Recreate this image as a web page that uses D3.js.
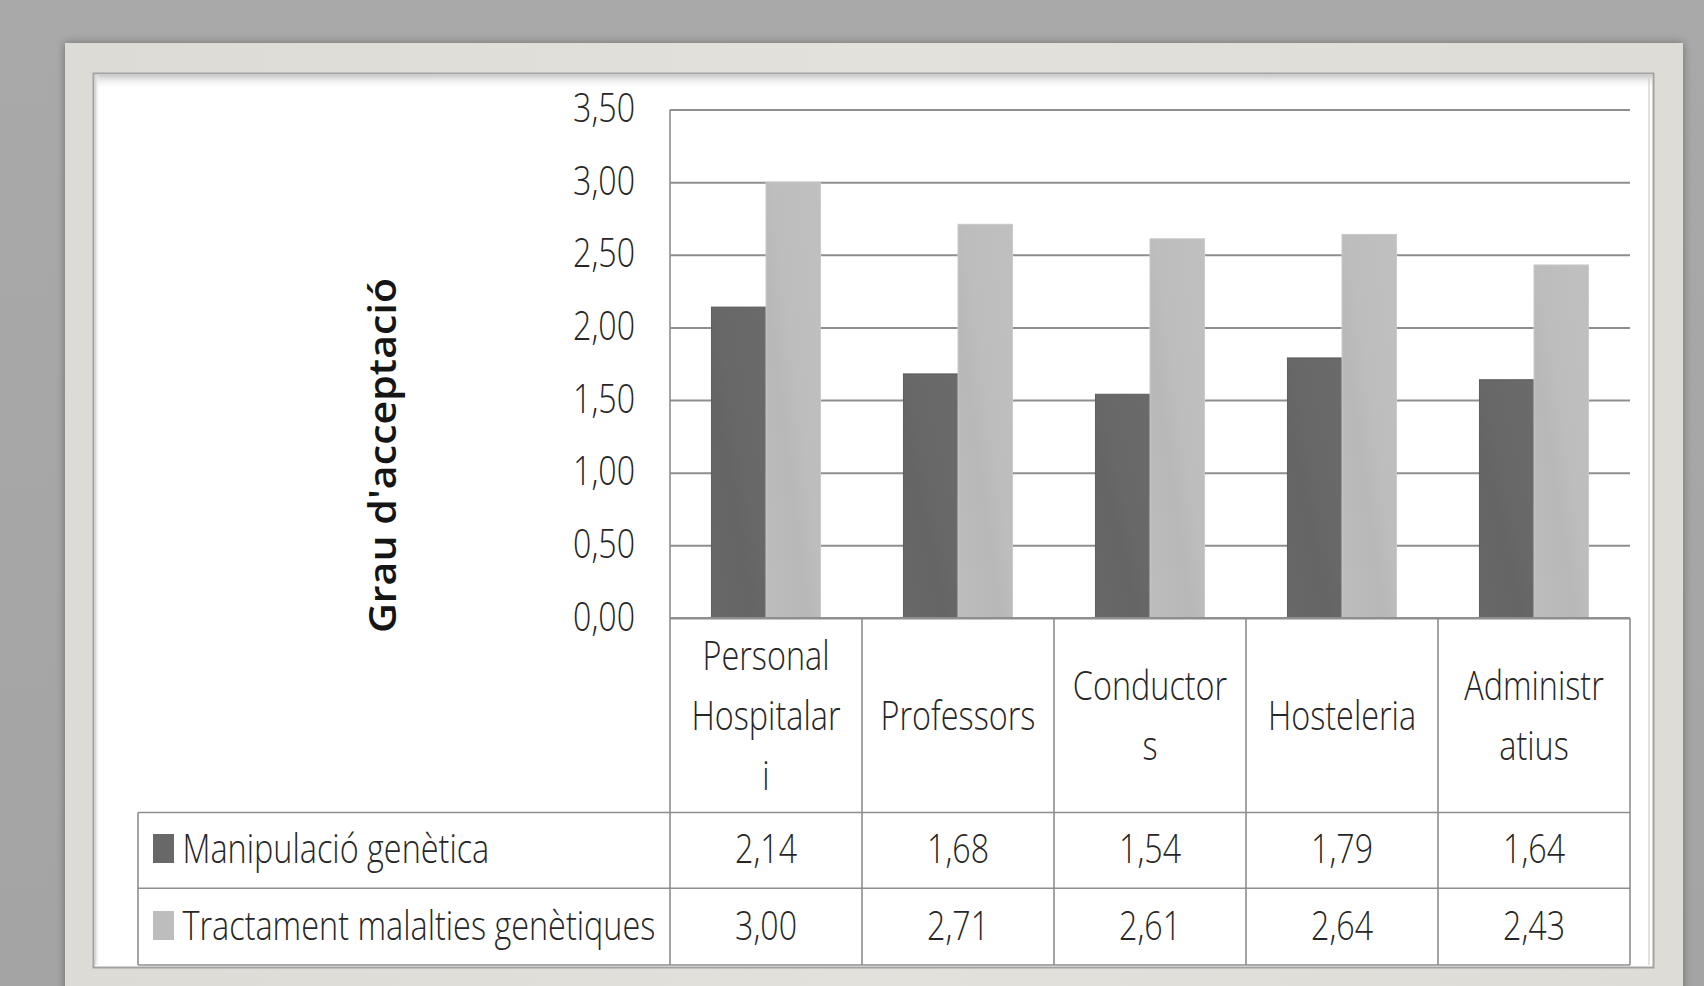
<!DOCTYPE html>
<html><head><meta charset="utf-8">
<script src="https://cdn.jsdelivr.net/npm/d3@7"></script>
<style>body{margin:0;background:#a7a7a7;overflow:hidden}</style>
</head><body>
<svg id="c" width="1704" height="986"></svg>
<script>
// ---------- data ----------
const categories = ["Personal Hospitalari", "Professors", "Conductors", "Hosteleria", "Administratius"];
const categoryLabelLines = [["Personal", "Hospitalar", "i"], ["Professors"], ["Conductor", "s"], ["Hosteleria"], ["Administr", "atius"]];
const seriesNames = ["Manipulació genètica", "Tractament malalties genètiques"];
const manipulacio = [2.14, 1.68, 1.54, 1.79, 1.64];
const tractament = [3.00, 2.71, 2.61, 2.64, 2.43];
const yTicks = [0, 0.5, 1, 1.5, 2, 2.5, 3, 3.5];
const yTitle = "Grau d'acceptació";

const seriesValues = [manipulacio, tractament];
const seriesColors = ["#686868", "#bdbdbd"];

// ---------- layout ----------
const W = 1704, H = 986;
const plot = {left: 670, right: 1630, top: 109.5, bottom: 618};
const table = {left: 138, headBottom: 812.5, row1Bottom: 888.3, bottom: 965};
const FONT = "'Open Sans', 'Noto Sans', sans-serif";
const FS = 41;
const FW = 300;
const textColor = "#262626";
const lineColor = "#8e8e8e";

const svg = d3.select("#c");
const defs = svg.append("defs");

function measure(str) {
  const t = svg.append("text").attr("font-family", FONT).attr("font-size", FS).attr("font-weight", FW).text(str);
  const w = t.node().getComputedTextLength();
  t.remove();
  return w;
}
const sxCat = 149 / measure("Hospitalar");
const sxNum = 62 / measure("3,50");
const sxLeg = 473 / measure("Tractament malalties genètiques");

function ctext(g, x, y, str, sx, anchor) {
  return g.append("text")
    .attr("transform", `translate(${x},${y}) scale(${sx},1)`)
    .attr("text-anchor", anchor || "middle")
    .attr("font-family", FONT).attr("font-size", FS).attr("font-weight", FW)
    .attr("fill", textColor).text(str);
}

// ---------- background & frames ----------
const bgGrad = defs.append("linearGradient").attr("id", "bg").attr("x1", 0).attr("y1", 0).attr("x2", 0).attr("y2", 1);
bgGrad.append("stop").attr("offset", "0%").attr("stop-color", "#a9a9a9");
bgGrad.append("stop").attr("offset", "100%").attr("stop-color", "#a4a4a4");
svg.append("rect").attr("width", W).attr("height", H).attr("fill", "url(#bg)");

const sh = defs.append("filter").attr("id", "shadow").attr("x", "-5%").attr("y", "-5%").attr("width", "110%").attr("height", "110%");
sh.append("feGaussianBlur").attr("in", "SourceAlpha").attr("stdDeviation", 5);
sh.append("feOffset").attr("dx", 0).attr("dy", 0).attr("result", "b");
sh.append("feComponentTransfer").append("feFuncA").attr("type", "linear").attr("slope", 0.35);
const fm = sh.append("feMerge"); fm.append("feMergeNode"); fm.append("feMergeNode").attr("in", "SourceGraphic");

const frGrad = defs.append("linearGradient").attr("id", "frame").attr("x1", 0).attr("y1", 0).attr("x2", 1).attr("y2", 0);
frGrad.append("stop").attr("offset", "0%").attr("stop-color", "#dcdbd6");
frGrad.append("stop").attr("offset", "50%").attr("stop-color", "#e2e1dc");
frGrad.append("stop").attr("offset", "100%").attr("stop-color", "#dedcd7");
svg.append("rect").attr("x", 65).attr("y", 43).attr("width", 1618).attr("height", 970)
  .attr("fill", "url(#frame)").attr("filter", "url(#shadow)");

// inner white panel
svg.append("rect").attr("x", 93.5).attr("y", 73.5).attr("width", 1560).attr("height", 894)
  .attr("fill", "#ffffff").attr("stroke", "#a2a2a2").attr("stroke-width", 2);
const topBevel = defs.append("linearGradient").attr("id", "tb").attr("x1", 0).attr("y1", 0).attr("x2", 0).attr("y2", 1);
topBevel.append("stop").attr("offset", "0%").attr("stop-color", "#c9c9c9");
topBevel.append("stop").attr("offset", "100%").attr("stop-color", "#ffffff").attr("stop-opacity", 0);
svg.append("rect").attr("x", 95).attr("y", 75).attr("width", 1557).attr("height", 14).attr("fill", "url(#tb)");
const leftBevel = defs.append("linearGradient").attr("id", "lb").attr("x1", 0).attr("y1", 0).attr("x2", 1).attr("y2", 0);
leftBevel.append("stop").attr("offset", "0%").attr("stop-color", "#d0d0d0");
leftBevel.append("stop").attr("offset", "100%").attr("stop-color", "#ffffff").attr("stop-opacity", 0);
svg.append("rect").attr("x", 95).attr("y", 75).attr("width", 5).attr("height", 890).attr("fill", "url(#lb)");
svg.append("line").attr("x1", 1649).attr("x2", 1649).attr("y1", 76).attr("y2", 965).attr("stroke", "#d6d6d6").attr("stroke-width", 1.5);

// ---------- scales ----------
const x = d3.scaleBand().domain(categories).range([plot.left, plot.right]);
const xs = d3.scaleBand().domain(seriesNames).range([0, x.bandwidth()]).paddingInner(0).paddingOuter(0.76);
const y = d3.scaleLinear().domain([0, 3.5]).range([plot.bottom, plot.top]);

// gridlines
const grid = svg.append("g").attr("transform", `translate(${plot.left},0)`)
  .call(d3.axisRight(y).tickValues(yTicks).tickSize(plot.right - plot.left).tickFormat(""));
grid.select(".domain").remove();
grid.selectAll(".tick line").attr("stroke", lineColor).attr("stroke-width", 2);

// bar gradients (subtle diagonal banding)
seriesNames.forEach((s, i) => {
  const g = defs.append("linearGradient").attr("id", "bar" + i)
    .attr("x1", 1).attr("y1", 0).attr("x2", 0).attr("y2", 1);
  const base = d3.color(seriesColors[i]);
  g.append("stop").attr("offset", "0%").attr("stop-color", base.brighter(0.05));
  g.append("stop").attr("offset", "45%").attr("stop-color", base);
  g.append("stop").attr("offset", "62%").attr("stop-color", base.darker(0.08));
  g.append("stop").attr("offset", "100%").attr("stop-color", base);
});

// bars
const barsG = svg.append("g");
seriesNames.forEach((s, si) => {
  barsG.append("g").selectAll("rect").data(categories).join("rect")
    .attr("x", (c) => x(c) + xs(s))
    .attr("width", xs.bandwidth())
    .attr("y", (c, i) => y(seriesValues[si][i]))
    .attr("height", (c, i) => y(0) - y(seriesValues[si][i]))
    .attr("fill", `url(#bar${si})`)
    .attr("stroke", si === 0 ? "#5c5c5c" : "#c9c9c9").attr("stroke-width", 1);
});

// y axis labels
const yAxis = svg.append("g").attr("transform", `translate(${plot.left},0)`)
  .call(d3.axisLeft(y).tickValues(yTicks).tickSize(0).tickPadding(35)
    .tickFormat(d => d3.format(".2f")(d).replace(".", ",")));
yAxis.select(".domain").remove();
yAxis.selectAll(".tick text")
  .attr("x", null).attr("dy", null)
  .attr("transform", `translate(-35,12) scale(${sxNum},1)`)
  .attr("font-family", FONT).attr("font-size", FS).attr("font-weight", FW).attr("fill", textColor);

// y title
svg.append("text").attr("transform", "translate(396,455.5) rotate(-90)")
  .attr("text-anchor", "middle").attr("font-family", FONT).attr("font-weight", 600)
  .attr("font-size", 37).attr("fill", "#151515")
  .attr("textLength", 355).attr("lengthAdjust", "spacingAndGlyphs").text(yTitle);

// ---------- data table ----------
const tbl = svg.append("g").attr("stroke", lineColor).attr("stroke-width", 1.6).attr("fill", "none");
tbl.append("line").attr("x1", plot.left).attr("x2", plot.right).attr("y1", plot.bottom).attr("y2", plot.bottom).attr("stroke-width", 2.2);
[table.headBottom, table.row1Bottom, table.bottom].forEach(yy =>
  tbl.append("line").attr("x1", table.left).attr("x2", plot.right).attr("y1", yy).attr("y2", yy));
tbl.append("line").attr("x1", plot.left).attr("x2", plot.left).attr("y1", plot.top).attr("y2", table.bottom);
categories.forEach(c => {
  const xx = x(c) + x.bandwidth();
  tbl.append("line").attr("x1", xx).attr("x2", xx).attr("y1", plot.bottom).attr("y2", table.bottom);
});
tbl.append("line").attr("x1", table.left).attr("x2", table.left).attr("y1", table.headBottom).attr("y2", table.bottom);

// category headers
const headG = svg.append("g");
const headCenter = (plot.bottom + table.headBottom) / 2;
categories.forEach((c, ci) => {
  const lines = categoryLabelLines[ci];
  const cx = x(c) + x.bandwidth() / 2;
  lines.forEach((ln, li) => {
    const cy = headCenter - (lines.length - 1) * 30 + li * 60;
    ctext(headG, cx, cy + 14.5, ln, sxCat);
  });
});

// rows: legend + values
const rowG = svg.append("g");
const rowCenters = [848, 925];
seriesNames.forEach((s, si) => {
  const cy = rowCenters[si];
  rowG.append("rect").attr("x", 153).attr("y", cy - 14).attr("width", 21).attr("height", 29)
    .attr("fill", seriesColors[si]);
  ctext(rowG, 182.5, cy + 14.5, s, sxLeg, "start");
  categories.forEach((c, ci) => {
    ctext(rowG, x(c) + x.bandwidth() / 2, cy + 14.5,
      d3.format(".2f")(seriesValues[si][ci]).replace(".", ","), sxNum);
  });
});
</script>
</body></html>
